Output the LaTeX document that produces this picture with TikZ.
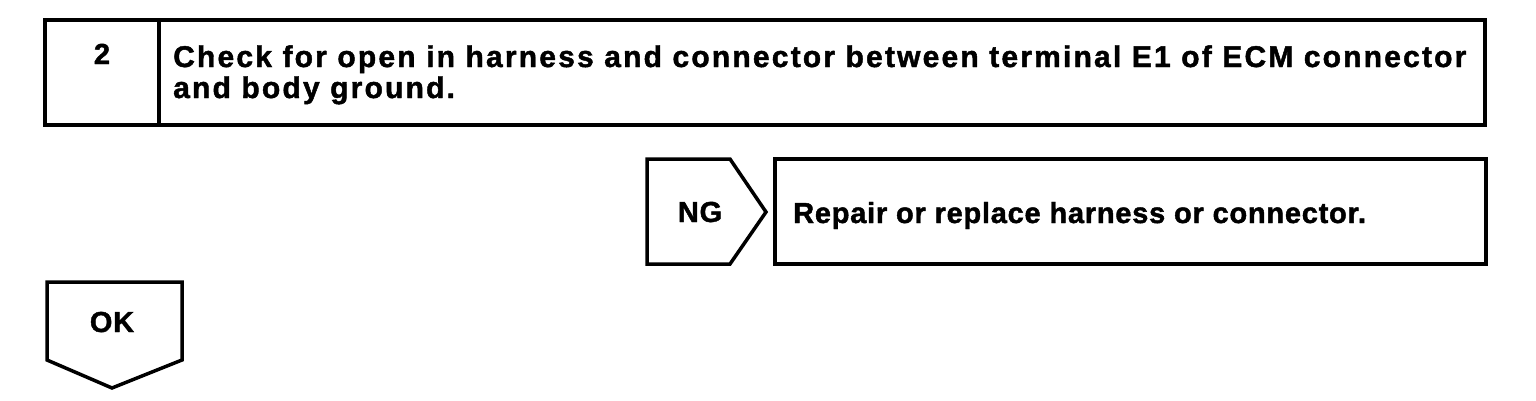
\documentclass[tikz,border=0pt]{standalone}
\usepackage{fontspec}
\setmainfont{Liberation Sans}
\newfontfamily\titlefont[LetterSpace=7.3,BoldFeatures={FakeBold=1.5}]{Liberation Sans}
\newfontfamily\labelfont[LetterSpace=2.6,BoldFeatures={FakeBold=1.5}]{Liberation Sans}
\begin{document}
\begin{tikzpicture}[x=1pt,y=-1pt,
  frame/.style={draw=black,line width=3.5pt,line join=miter},
  ttl/.style={font=\titlefont\bfseries\fontsize{30}{31}\selectfont,inner sep=0pt,anchor=base west},
  lbl/.style={font=\labelfont\bfseries\fontsize{29}{31}\selectfont,inner sep=0pt}]
\useasboundingbox (0,0) rectangle (1536,400);
% step box
\draw[frame] (45,20) rectangle (1485,125);
\draw[frame] (159,20) -- (159,125);
\node[lbl,anchor=base] (num) at (102,64) {2};
\node[ttl] (title1) at (173,67) {Check for open in harness and connector between terminal E1 of ECM connector};
\node[ttl] (title2) at (173,98) {and body ground.};
% NG
\draw[frame] (647,159) -- (730,159) -- (766,212) -- (730,264) -- (647,264) -- cycle;
\node[lbl,anchor=base] (ng) at (700,222) {NG};
\draw[frame] (775,159) rectangle (1486,264);
\node[lbl,anchor=base west] (repair) at (793,223) {Repair or replace harness or connector.};
% OK
\draw[frame] (47,282) -- (182,282) -- (182,360) -- (112,388) -- (47,360) -- cycle;
\node[lbl,anchor=base] (ok) at (112,332) {OK};
\end{tikzpicture}
\end{document}
